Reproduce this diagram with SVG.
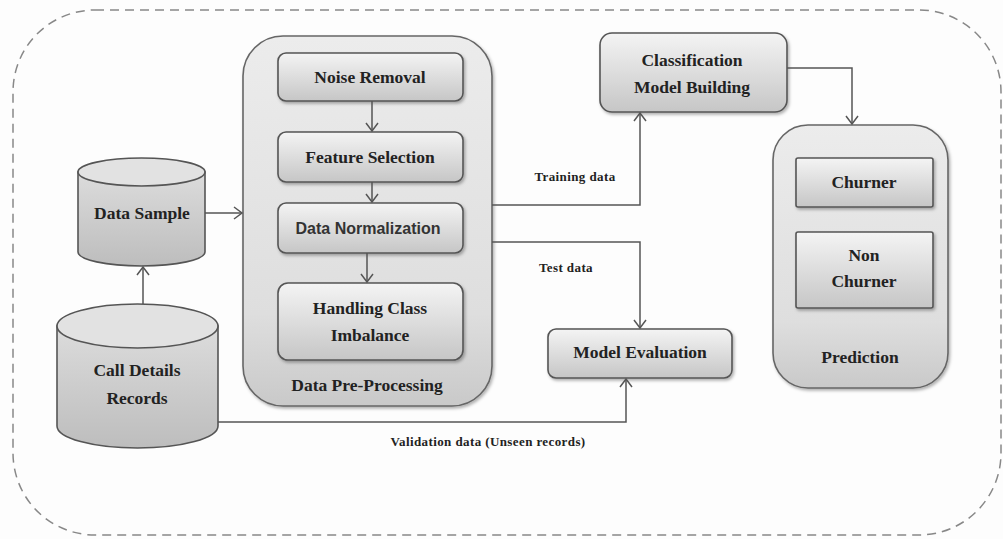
<svg xmlns="http://www.w3.org/2000/svg" width="1003" height="539" viewBox="0 0 1003 539">
<defs>
<linearGradient id="gBox" x1="0" y1="0" x2="0" y2="1">
<stop offset="0" stop-color="#f4f4f4"/><stop offset="1" stop-color="#c6c6c6"/>
</linearGradient>
<linearGradient id="gCont" x1="0" y1="0" x2="0" y2="1">
<stop offset="0" stop-color="#ececec"/><stop offset="0.75" stop-color="#dedede"/><stop offset="1" stop-color="#c9c9c9"/>
</linearGradient>
<linearGradient id="gCyl" x1="0" y1="0" x2="0" y2="1">
<stop offset="0" stop-color="#dcdcdc"/><stop offset="1" stop-color="#bdbdbd"/>
</linearGradient>
<filter id="sh" x="-10%" y="-10%" width="130%" height="130%">
<feDropShadow dx="1.5" dy="2" stdDeviation="1.5" flood-color="#000" flood-opacity="0.3"/>
</filter>
<marker id="arr" markerWidth="12" markerHeight="14" refX="9" refY="7" orient="auto" markerUnits="userSpaceOnUse">
<path d="M1,1 L9,7 L1,13" fill="none" stroke="#555" stroke-width="1.5"/>
</marker>
</defs>
<style>
.box{fill:url(#gBox);stroke:#555;stroke-width:1.6;filter:url(#sh)}
.cont{fill:url(#gCont);stroke:#666;stroke-width:1.6;filter:url(#sh)}
.cyl{fill:url(#gCyl);stroke:#555;stroke-width:1.6}
.top{fill:#e2e2e2;stroke:#555;stroke-width:1.6}
.t{font-family:"Liberation Serif",serif;font-weight:bold;font-size:17.5px;fill:#222;text-anchor:middle}
.s{font-family:"Liberation Sans",sans-serif;font-weight:bold;font-size:16px;fill:#333;text-anchor:middle}
.lbl{font-family:"Liberation Serif",serif;font-weight:bold;font-size:13px;fill:#222;text-anchor:middle;letter-spacing:0.4px}
.c{fill:none;stroke:#555;stroke-width:1.5;marker-end:url(#arr)}
</style>
<rect x="0" y="0" width="1003" height="539" fill="#fdfdfd"/>
<rect x="13" y="10" width="988" height="525" rx="82" ry="82" fill="none" stroke="#888" stroke-width="1.5" stroke-dasharray="9 6"/>

<g id="preprocessing">
<rect class="cont" x="243" y="36" width="249" height="370" rx="40" ry="40"/>
<text class="t" x="367" y="391" font-size="18">Data Pre-Processing</text>
</g>
<g id="noise-removal">
<rect class="box" x="278" y="53" width="185" height="48" rx="8"/>
<text class="t" x="370" y="83">Noise Removal</text>
</g>
<g id="feature-selection">
<rect class="box" x="278" y="132" width="185" height="50" rx="8"/>
<text class="t" x="370" y="163">Feature Selection</text>
</g>
<g id="data-normalization">
<rect class="box" x="278" y="203" width="185" height="50" rx="8"/>
<text class="s" x="368" y="234">Data Normalization</text>
</g>
<g id="handling-class-imbalance">
<rect class="box" x="278" y="283" width="185" height="77" rx="10"/>
<text class="t" x="370" y="314">Handling Class</text>
<text class="t" x="370" y="341">Imbalance</text>
</g>

<g id="data-sample">
<path class="cyl" d="M78,172 L78,252 A63.5,14 0 0 0 205,252 L205,172 Z"/>
<ellipse class="top" cx="141.5" cy="172" rx="63.5" ry="14"/>
<text class="t" x="142" y="219" font-size="18">Data Sample</text>
</g>
<g id="call-details-records">
<path class="cyl" d="M57,326 L57,426 A80.5,22 0 0 0 218,426 L218,326 Z"/>
<ellipse class="top" cx="137.5" cy="326" rx="80.5" ry="22"/>
<text class="t" x="137" y="376" font-size="18">Call Details</text>
<text class="t" x="137" y="404" font-size="18">Records</text>
</g>

<g id="classification">
<rect class="box" x="600" y="33" width="187" height="79" rx="12"/>
<text class="t" x="692" y="66">Classification</text>
<text class="t" x="692" y="93">Model Building</text>
</g>
<g id="model-evaluation">
<rect class="box" x="548" y="329" width="184" height="49" rx="8"/>
<text class="t" x="640" y="358">Model Evaluation</text>
</g>
<g id="prediction">
<rect class="cont" x="773" y="125" width="175" height="263" rx="35" ry="35"/>
<text class="t" x="860" y="363">Prediction</text>
</g>
<g id="churner">
<rect class="box" x="796" y="158" width="137" height="49" rx="2"/>
<text class="t" x="864" y="188">Churner</text>
</g>
<g id="non-churner">
<rect class="box" x="796" y="232" width="137" height="76" rx="2"/>
<text class="t" x="864" y="261">Non</text>
<text class="t" x="864" y="287">Churner</text>
</g>

<g id="connectors">
<path class="c" d="M372,101 L372,131"/>
<path class="c" d="M372,182 L372,202"/>
<path class="c" d="M367,253 L367,282"/>
<path class="c" d="M205,213 L242,213"/>
<path class="c" d="M143,304 L143,267"/>
<path class="c" d="M492,205 L640,205 L640,113"/>
<path class="c" d="M492,242 L640,242 L640,328"/>
<path class="c" d="M218,422 L626,422 L626,379"/>
<path class="c" d="M787,68 L852,68 L852,124"/>
<text class="lbl" x="575" y="181">Training data</text>
<text class="lbl" x="566" y="272">Test data</text>
<text class="lbl" x="488" y="446">Validation data (Unseen records)</text>
</g>
</svg>
